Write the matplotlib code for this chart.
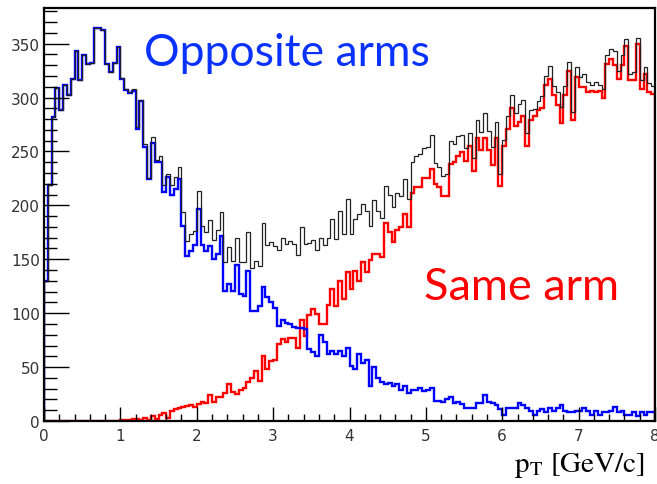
"""
pT spectrum of pairs split by arm topology, drawn as ROOT-style step histograms.
"""

import numpy as np
import matplotlib
matplotlib.use('Agg')
import matplotlib.pyplot as plt

# 160 bins of 0.05 GeV/c from 0 to 8
edges = np.linspace(0.0, 8.0, 161)

# counts per bin, pairs in opposite arms
opposite_arms = [
    130, 219, 282, 309, 288, 312, 302, 317, 343, 316,
    339, 331, 332, 364, 364, 363, 331, 324, 332, 347,
    317, 307, 304, 306, 271, 297, 254, 224, 258, 240,
    240, 212, 226, 210, 215, 224, 181, 153, 158, 163,
    197, 163, 158, 162, 150, 155, 172, 121, 127, 121,
    145, 118, 116, 139, 102, 102, 107, 124, 115, 110,
    105, 88, 94, 91, 90, 87, 86, 86, 85, 67,
    64, 60, 80, 73, 62, 65, 62, 65, 60, 68,
    51, 48, 62, 54, 57, 32, 50, 40, 36, 34,
    35, 32, 34, 29, 32, 26, 29, 29, 31, 28,
    29, 31, 19, 19, 18, 20, 22, 17, 18, 16,
    12, 12, 12, 17, 17, 24, 18, 17, 15, 11,
    6, 12, 12, 12, 17, 15, 12, 9, 6, 9,
    11, 8, 12, 9, 12, 15, 9, 8, 8, 9,
    9, 12, 9, 6, 9, 6, 8, 8, 9, 13,
    8, 9, 6, 6, 8, 5, 8, 6, 8, 8,
]

# counts per bin, pairs in the same arm
same_arm = [
    0, 0, 0, 0, 0, 0, 0, 0, 0, 0,
    0, 0, 0, 0, 0, 0, 0, 0, 0, 0,
    1, 1, 1, 2, 2, 1, 3, 1, 5, 2,
    6, 7, 3, 9, 11, 12, 13, 14, 15, 13,
    16, 18, 17, 24, 18, 22, 22, 26, 34, 27,
    25, 29, 31, 36, 40, 46, 37, 60, 48, 56,
    57, 71, 76, 73, 77, 77, 68, 94, 79, 98,
    104, 99, 90, 90, 108, 122, 107, 130, 113, 138,
    122, 139, 130, 147, 138, 149, 155, 155, 152, 184,
    175, 166, 177, 180, 192, 180, 211, 217, 217, 225,
    225, 234, 220, 217, 209, 209, 238, 240, 246, 249,
    241, 255, 232, 262, 251, 262, 251, 237, 262, 218,
    255, 271, 290, 274, 277, 283, 255, 279, 283, 288,
    290, 312, 317, 302, 293, 276, 302, 325, 279, 319,
    310, 310, 305, 306, 305, 306, 300, 331, 336, 330,
    317, 330, 348, 316, 316, 350, 308, 322, 305, 303,
]

opposite_arms = np.array(opposite_arms, dtype=float)
same_arm = np.array(same_arm, dtype=float)
# the total is the sum of both topologies
all_pairs = opposite_arms + same_arm

fig = plt.figure(figsize=(6.57, 4.85), dpi=100)
ax = fig.add_axes([44 / 657, 63 / 485, 611 / 657, 413 / 485])

ax.stairs(same_arm, edges, color='#ff0000', linewidth=1.7, baseline=0)
ax.stairs(opposite_arms, edges, color='#0000ff', linewidth=1.7, baseline=0)
ax.stairs(all_pairs, edges, color='#222222', linewidth=0.9, baseline=0)

ax.set_xlim(0, 8)
ax.set_ylim(0, 383)

# ROOT-like frame and inward ticks on the left and bottom only
for side in ['left', 'right', 'top', 'bottom']:
    ax.spines[side].set_linewidth(1.6)
    ax.spines[side].set_color('black')

ax.set_xticks(np.arange(0, 9, 1))
ax.set_xticks(np.arange(0, 8.01, 0.2), minor=True)
ax.set_yticks(np.arange(0, 351, 50))
ax.set_yticks(np.arange(0, 381, 10), minor=True)

ax.tick_params(axis='both', which='both', direction='in', top=False, right=False,
               colors='black', labelcolor='#333333', labelsize=11, width=1.0)
ax.tick_params(axis='x', which='major', length=10, pad=5)
ax.tick_params(axis='x', which='minor', length=5)
ax.tick_params(axis='y', which='major', length=18, pad=3)
ax.tick_params(axis='y', which='minor', length=9)
for lab in ax.get_xticklabels() + ax.get_yticklabels():
    lab.set_family('DejaVu Sans')

ax.text(1.31, 330, 'Opposite arms', color='#0a32ff', fontsize=32,
        family=['Lato', 'DejaVu Sans'], va='baseline', ha='left')
ax.text(4.98, 113, 'Same arm', color='#ff0000', fontsize=32.5,
        family=['Lato', 'DejaVu Sans'], va='baseline', ha='left')

plt.rcParams['mathtext.fontset'] = 'stix'
fig.text(0.982, 0.027, r'$\mathregular{p_T}$ [GeV/c]', fontsize=21,
         family='STIXGeneral', ha='right', va='baseline', color='black')

fig.savefig('out.png', dpi=100, facecolor='white')
plt.close(fig)
